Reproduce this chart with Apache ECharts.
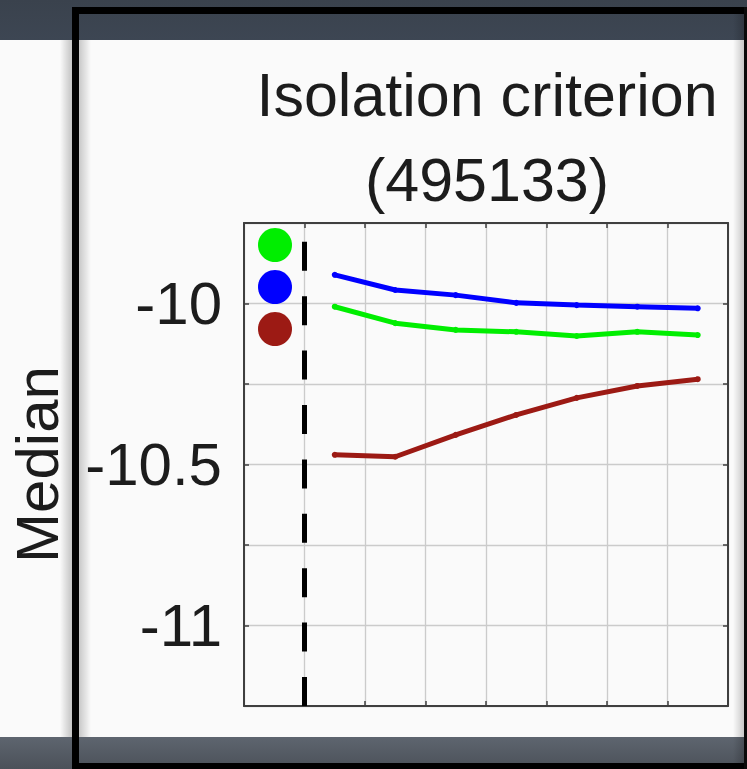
<!DOCTYPE html>
<html>
<head>
<meta charset="utf-8">
<script src="https://cdn.jsdelivr.net/npm/echarts@6/dist/echarts.min.js"></script>
<style>
  html, body { margin: 0; padding: 0; background: #fafafa; }
  #chart { width: 747px; height: 769px; }
</style>
</head>
<body>
<div id="chart"></div>
<script>
// Sample positions along the horizontal axis
const xPositions = [1.5, 2.5, 3.5, 4.5, 5.5, 6.5, 7.5];

// Median values of the three groups
const greenValues = [-10.010, -10.061, -10.082, -10.088, -10.101, -10.088, -10.098];
const blueValues  = [-9.911, -9.958, -9.974, -9.998, -10.005, -10.010, -10.015];
const redValues   = [-10.470, -10.476, -10.408, -10.346, -10.293, -10.256, -10.235];

// Labelled y ticks (other grid ticks stay unlabelled)
const yTickLabels = [-11, -10.5, -10];

// Position of the dashed separator
const separatorX = 1;

const titleLines = ['Isolation criterion', '(495133)'];
const yName = 'Median';

const Y_MIN = -11.25, Y_MAX = -9.75;
const FONT = '"Liberation Sans", Arial, Helvetica, sans-serif';
const TEXT = '#1c1c1c';
const FRAME = '#3f3f3f';
const GRIDLINE = '#cbcbcb';

function pairs(values) {
  return values.map((v, i) => [xPositions[i], v]);
}

const chart = echarts.init(document.getElementById('chart'), null, { renderer: 'svg' });

const lineSeries = (name, color, values) => ({
  name: name,
  type: 'line',
  data: pairs(values),
  symbol: 'circle',
  symbolSize: 6,
  color: color,
  lineStyle: { width: 5, color: color },
  itemStyle: { color: color, borderWidth: 0 },
  z: 5
});

const hiddenAxisCommon = {
  axisLabel: { show: false },
  splitLine: { show: false },
  axisLine: { show: true, onZero: false, lineStyle: { color: FRAME, width: 2 } },
  axisTick: { show: true, inside: true, length: 5, lineStyle: { color: FRAME, width: 1.5 } }
};

chart.setOption({
  animation: false,
  backgroundColor: 'transparent',
  graphic: [
    // page surround
    { type: 'rect', z: -10, shape: { x: 0, y: 0, width: 747, height: 769 }, style: { fill: '#fafafa' } },
    { type: 'rect', z: -9, shape: { x: 0, y: 0, width: 747, height: 40 },
      style: { fill: new echarts.graphic.LinearGradient(0, 0, 0, 1, [
        { offset: 0, color: '#3a424d' }, { offset: 1, color: '#3d4653' }]) } },
    { type: 'rect', z: -9, shape: { x: 0, y: 737, width: 747, height: 32 },
      style: { fill: new echarts.graphic.LinearGradient(0, 0, 0, 1, [
        { offset: 0, color: '#5e656f' }, { offset: 1, color: '#4b5159' }]) } },
    // soft shadows beside the frame
    { type: 'rect', z: -8, shape: { x: 60, y: 40, width: 12, height: 697 },
      style: { fill: new echarts.graphic.LinearGradient(0, 0, 1, 0, [
        { offset: 0, color: 'rgba(0,0,0,0)' }, { offset: 1, color: 'rgba(0,0,0,0.22)' }]) } },
    { type: 'rect', z: -8, shape: { x: 79, y: 40, width: 12, height: 697 },
      style: { fill: new echarts.graphic.LinearGradient(0, 0, 1, 0, [
        { offset: 0, color: 'rgba(0,0,0,0.2)' }, { offset: 1, color: 'rgba(0,0,0,0)' }]) } },
    { type: 'rect', z: -8, shape: { x: 733, y: 14, width: 11, height: 749 },
      style: { fill: new echarts.graphic.LinearGradient(0, 0, 1, 0, [
        { offset: 0, color: 'rgba(0,0,0,0)' }, { offset: 1, color: 'rgba(0,0,0,0.2)' }]) } },
    // black frame
    { type: 'rect', z: -7, shape: { x: 72, y: 7, width: 7, height: 762 }, style: { fill: '#000' } },
    { type: 'rect', z: -7, shape: { x: 72, y: 7, width: 675, height: 7 }, style: { fill: '#000' } },
    { type: 'rect', z: -7, shape: { x: 72, y: 763, width: 675, height: 6 }, style: { fill: '#000' } },
    { type: 'rect', z: -7, shape: { x: 744, y: 7, width: 3, height: 762 }, style: { fill: '#0a0a0a' } }
  ],
  title: {
    text: titleLines.join('\n'),
    left: 487,
    top: 52,
    textAlign: 'center',
    padding: 0,
    textStyle: { fontFamily: FONT, fontSize: 61, fontWeight: 'normal', lineHeight: 85, color: TEXT }
  },
  legend: {
    data: ['Group G', 'Group B', 'Group R'],
    orient: 'vertical',
    left: 258,
    top: 228,
    padding: 0,
    itemWidth: 34,
    itemHeight: 34,
    itemGap: 8,
    icon: 'circle',
    selectedMode: false,
    itemStyle: { borderWidth: 0 },
    formatter: () => '',
    textStyle: { fontSize: 1 }
  },
  grid: { left: 244, top: 223, width: 484, height: 483, containLabel: false, outerBoundsMode: 'none' },
  xAxis: [
    {
      type: 'value', position: 'bottom', min: 0, max: 8, interval: 1,
      axisLabel: { show: false },
      splitLine: { show: true, lineStyle: { color: GRIDLINE, width: 1.3 } },
      axisLine: { show: true, onZero: false, lineStyle: { color: FRAME, width: 2 } },
      axisTick: { show: true, inside: true, length: 5, lineStyle: { color: FRAME, width: 1.5 } }
    },
    Object.assign({ type: 'value', position: 'top', min: 0, max: 8, interval: 1 }, hiddenAxisCommon)
  ],
  yAxis: [
    {
      type: 'value', position: 'left', min: Y_MIN, max: Y_MAX, interval: 0.25,
      name: yName,
      nameLocation: 'middle',
      nameGap: 177,
      nameTextStyle: { fontFamily: FONT, fontSize: 60, color: TEXT },
      axisLabel: {
        fontFamily: FONT, fontSize: 60, color: TEXT, margin: 22,
        formatter: v => yTickLabels.some(t => Math.abs(t - v) < 1e-9) ? String(v) : ''
      },
      splitLine: { show: true, lineStyle: { color: GRIDLINE, width: 1.3 } },
      axisLine: { show: true, onZero: false, lineStyle: { color: FRAME, width: 2 } },
      axisTick: { show: true, inside: true, length: 5, lineStyle: { color: FRAME, width: 1.5 } }
    },
    Object.assign({ type: 'value', position: 'right', min: Y_MIN, max: Y_MAX, interval: 0.25 }, hiddenAxisCommon)
  ],
  series: [
    lineSeries('Group G', '#00ee00', greenValues),
    lineSeries('Group B', '#0000ff', blueValues),
    lineSeries('Group R', '#9c1a14', redValues),
    {
      name: 'separator',
      type: 'line',
      data: [[separatorX, Y_MIN], [separatorX, Y_MAX]],
      symbol: 'none',
      lineStyle: { color: '#000', width: 5, type: [29, 25.4] },
      z: 4
    }
  ]
});
</script>
</body>
</html>
